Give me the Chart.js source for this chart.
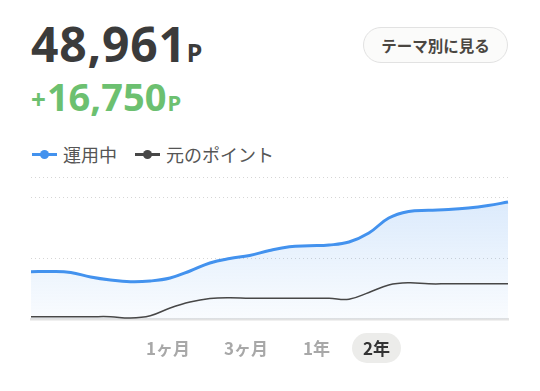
<!DOCTYPE html>
<html>
<head>
<meta charset="utf-8">
<script src="https://cdn.jsdelivr.net/npm/chart.js@4.4.1/dist/chart.umd.min.js"></script>
<style>
  html, body { margin: 0; padding: 0; background: #fff; }
  body { width: 540px; height: 391px; position: relative; overflow: hidden; font-family: "Noto Sans", "Noto Sans CJK JP", sans-serif; }
  .total { position: absolute; left: 31px; top: 20px; font-size: 48px; font-weight: 700; color: #3b3b3b; letter-spacing: 0.8px; line-height: 1; }
  .total small, .gain small { font-weight: 700; }
  .total small { font-size: 25px; margin-left: 0; }
  .gain { position: absolute; left: 31px; top: 77px; font-size: 38px; font-weight: 700; color: #6cc070; line-height: 1; }
  .gain .plus { font-size: 26px; position: relative; top: -2px; margin-right: 1px; }
  .gain small { font-size: 22px; margin-left: 1px; }
  .btn { position: absolute; left: 363px; top: 27px; width: 143px; height: 34px; border: 1px solid #e2e2e2; border-radius: 18px; background: #fbfbfa;
         font-family: "Noto Sans CJK JP", sans-serif; font-size: 15.5px; font-weight: 700; color: #4a4641; text-align: center; line-height: 34px; }
  .legend { position: absolute; left: 32px; top: 141px; font-family: "Noto Sans CJK JP", sans-serif; font-size: 18px; color: #555; display: flex; align-items: center; }
  .legend .item { display: flex; align-items: center; margin-right: 18px; }
  .legend .mark { position: relative; width: 25px; height: 24px; margin-right: 6px; }
  .legend .mark::before { content: ""; position: absolute; left: 0; right: 0; top: 11px; height: 2.5px; background: var(--c); }
  .legend .mark::after { content: ""; position: absolute; left: 8px; top: 7.5px; width: 9px; height: 9px; border-radius: 50%; background: var(--c); }
  #chartWrap { position: absolute; left: 0; top: 160px; width: 540px; height: 180px; }
  .tabs { position: absolute; top: 333px; left: 0; width: 540px; height: 30px; font-family: "Noto Sans CJK JP", sans-serif; font-size: 17px; font-weight: 700; color: #a8a8a8; }
  .tab { position: absolute; top: 0; height: 30px; line-height: 30px; }
  .tab.on { background: #ececea; color: #333; border-radius: 15px; padding: 0 11px; }
</style>
</head>
<body>
<div class="total">48,961<small>P</small></div>
<div class="gain"><span class="plus">+</span>16,750<small>P</small></div>
<div class="btn">テーマ別に見る</div>
<div class="legend" id="legend"></div>
<div id="chartWrap"><canvas id="assetChart"></canvas></div>
<div class="tabs">
  <div class="tab" style="left:146px">1ヶ月</div>
  <div class="tab" style="left:224px">3ヶ月</div>
  <div class="tab" style="left:303px">1年</div>
  <div class="tab on" style="left:352px">2年</div>
</div>
<script>
// 2年分の推移（月次）
const months = ['22/5','22/6','22/7','22/8','22/9','22/10','22/11','22/12','23/1','23/2','23/3','23/4','23/5',
                '23/6','23/7','23/8','23/9','23/10','23/11','23/12','24/1','24/2','24/3','24/4','24/5'];
const investedValue = [34692, 34733, 34528, 33606, 32991, 32643, 32786, 33401, 34835, 36474, 37396, 38011, 39036,
                       39794, 39999, 40163, 40778, 42621, 45695, 47027, 47273, 47437, 47744, 48256, 48961];
const originalPoints = [25471, 25471, 25471, 25471, 25471, 25205, 25676, 27254, 28483, 29200, 29364, 29241, 29241,
                        29241, 29241, 29241, 29057, 30430, 31967, 32417, 32212, 32211, 32211, 32211, 32211];
const yTicks = [25000, 37500, 50000, 54100];

const seriesNames = ['運用中', '元のポイント'];
const seriesColors = ['#4392ee', '#474747'];

// legend
const legend = document.getElementById('legend');
seriesNames.forEach((name, i) => {
    const item = document.createElement('div');
    item.className = 'item';
    item.innerHTML = `<span class="mark" style="--c:${seriesColors[i]}"></span><span>${name}</span>`;
    legend.appendChild(item);
});

const ctx = document.getElementById('assetChart');
new Chart(ctx, {
    type: 'line',
    data: {
        labels: months,
        datasets: [
            {
                label: seriesNames[0], data: investedValue, borderColor: seriesColors[0], borderWidth: 3,
                pointRadius: 0, tension: 0.4, order: 1, fill: 'start',
                backgroundColor: c => {
                    const area = c.chart.chartArea;
                    if (!area) return 'rgba(67,146,238,0.12)';
                    const g = c.chart.ctx.createLinearGradient(0, area.top, 0, area.bottom);
                    g.addColorStop(0, 'rgba(67,146,238,0.22)');
                    g.addColorStop(1, 'rgba(67,146,238,0.03)');
                    return g;
                }
            },
            { label: seriesNames[1], data: originalPoints, borderColor: seriesColors[1], borderWidth: 1.5, pointRadius: 0, tension: 0.4, order: 0, fill: false }
        ]
    },
    options: {
        responsive: true, maintainAspectRatio: false, animation: false,
        layout: { padding: { left: 31, right: 32, top: 17, bottom: 21 } },
        scales: {
            x: { ticks: { display: false }, grid: { display: false, drawTicks: false }, border: { display: true, color: '#e2e2e2', width: 2.5 } },
            y: {
                min: 25000, max: 54100,
                afterBuildTicks: s => { s.ticks = yTicks.map(v => ({ value: v })); },
                ticks: { display: false },
                grid: { drawTicks: false, color: c => c.tick && c.tick.value === yTicks[0] ? 'transparent' : '#d6d6d6', lineWidth: 1 },
                border: { display: false, dash: [1, 3] }
            }
        },
        plugins: { legend: { display: false }, tooltip: { enabled: false } }
    }
});
</script>
</body>
</html>
